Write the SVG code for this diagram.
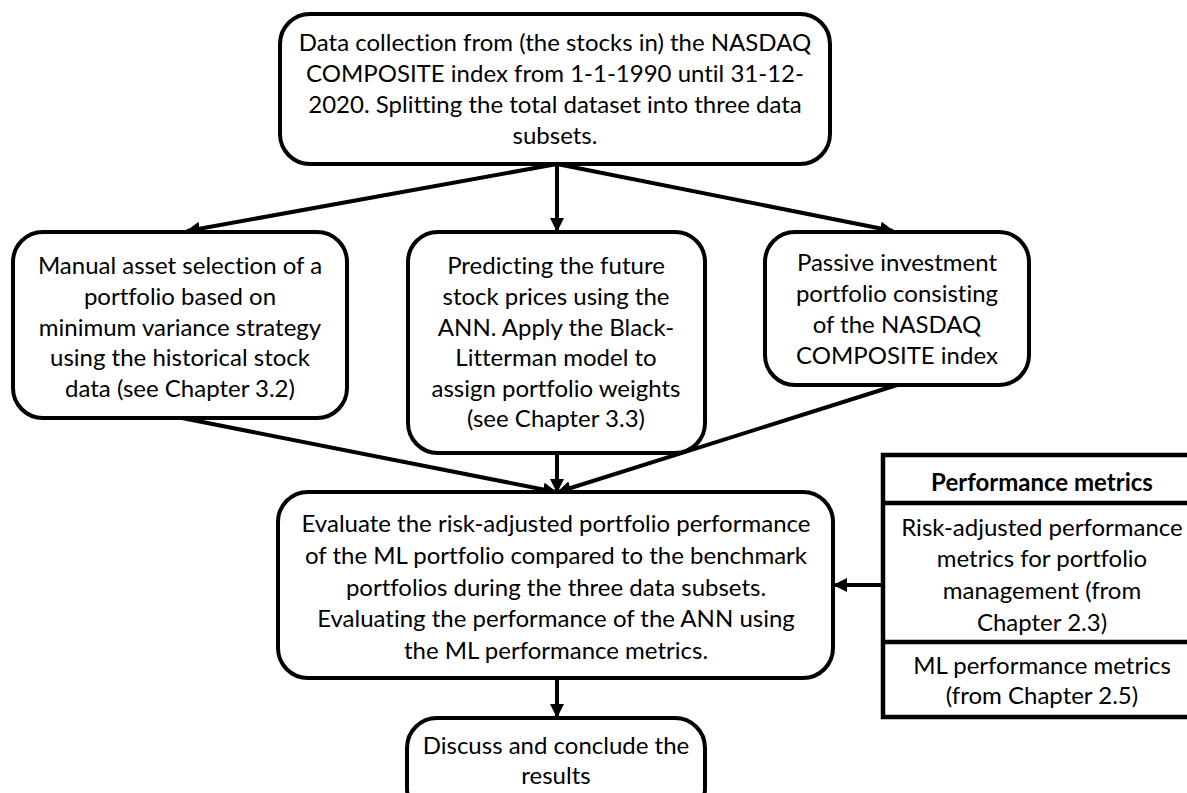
<svg xmlns="http://www.w3.org/2000/svg" width="1187" height="793" viewBox="0 0 1187 793">
<defs>
<style>
.box{fill:#fff;stroke:#000;stroke-width:4}
.t{font-family:Lato,"Open Sans","Liberation Sans",sans-serif;font-size:24px;fill:#000;text-anchor:middle;font-variant-ligatures:none}
.b{font-weight:bold}
.c{stroke:#000;stroke-width:4;fill:none;marker-end:url(#ah)}
</style>
<marker id="ah" markerUnits="userSpaceOnUse" markerWidth="14" markerHeight="14" viewBox="0 0 14 14" refX="13" refY="7" orient="auto">
<path d="M0,0 L14,7 L0,14 Z" fill="#000"/>
</marker>
</defs>
<rect width="1187" height="793" fill="#fff"/>
<g id="connectors">
<line class="c" x1="557" y1="164" x2="187" y2="231"/>
<line class="c" x1="557" y1="164" x2="557" y2="231"/>
<line class="c" x1="557" y1="164" x2="893" y2="231"/>
<line class="c" x1="182" y1="418" x2="556" y2="492"/>
<line class="c" x1="557" y1="453" x2="557" y2="492"/>
<line class="c" x1="897" y1="385" x2="558" y2="492"/>
<line class="c" x1="883" y1="585" x2="834" y2="585"/>
<line class="c" x1="557" y1="678" x2="557" y2="717"/>
</g>
<g id="n-data">
<rect class="box" x="280" y="14" width="550" height="150" rx="30"/>
<text class="t" x="555" y="51">Data collection from (the stocks in) the NASDAQ</text>
<text class="t" x="555" y="82">COMPOSITE index from 1-1-1990 until 31-12-</text>
<text class="t" x="555" y="113">2020. Splitting the total dataset into three data</text>
<text class="t" x="555" y="144">subsets.</text>
</g>
<g id="n-manual">
<rect class="box" x="13" y="232" width="334" height="186" rx="30"/>
<text class="t" x="180" y="274">Manual asset selection of a</text>
<text class="t" x="180" y="305">portfolio based on</text>
<text class="t" x="180" y="336">minimum variance strategy</text>
<text class="t" x="180" y="366">using the historical stock</text>
<text class="t" x="180" y="397">data (see Chapter 3.2)</text>
</g>
<g id="n-ann">
<rect class="box" x="408" y="232" width="297" height="221" rx="30"/>
<text class="t" x="556" y="274">Predicting the future</text>
<text class="t" x="556" y="305">stock prices using the</text>
<text class="t" x="556" y="336">ANN. Apply the Black-</text>
<text class="t" x="556" y="366">Litterman model to</text>
<text class="t" x="556" y="397">assign portfolio weights</text>
<text class="t" x="556" y="427">(see Chapter 3.3)</text>
</g>
<g id="n-passive">
<rect class="box" x="765" y="232" width="264" height="153" rx="30"/>
<text class="t" x="897" y="271">Passive investment</text>
<text class="t" x="897" y="302">portfolio consisting</text>
<text class="t" x="897" y="333">of the NASDAQ</text>
<text class="t" x="897" y="364">COMPOSITE index</text>
</g>
<g id="n-evaluate">
<rect class="box" x="278" y="492" width="555" height="186" rx="30"/>
<text class="t" x="556" y="532">Evaluate the risk-adjusted portfolio performance</text>
<text class="t" x="556" y="564">of the ML portfolio compared to the benchmark</text>
<text class="t" x="556" y="596">portfolios during the three data subsets.</text>
<text class="t" x="556" y="627">Evaluating the performance of the ANN using</text>
<text class="t" x="556" y="659">the ML performance metrics.</text>
</g>
<g id="n-discuss">
<rect class="box" x="407" y="718" width="298" height="100" rx="30"/>
<text class="t" x="556" y="754">Discuss and conclude the</text>
<text class="t" x="556" y="784">results</text>
</g>
<g id="n-metrics">
<rect x="883" y="455" width="318" height="262" fill="#fff" stroke="#000" stroke-width="4.5"/>
<line x1="883" y1="503" x2="1201" y2="503" stroke="#000" stroke-width="4.5"/>
<line x1="883" y1="642" x2="1201" y2="642" stroke="#000" stroke-width="4.5"/>
<text class="t b" x="1042" y="491">Performance metrics</text>
<text class="t" x="1042" y="536">Risk-adjusted performance</text>
<text class="t" x="1042" y="567">metrics for portfolio</text>
<text class="t" x="1042" y="599">management (from</text>
<text class="t" x="1042" y="631">Chapter 2.3)</text>
<text class="t" x="1042" y="674">ML performance metrics</text>
<text class="t" x="1042" y="704">(from Chapter 2.5)</text>
</g>
</svg>
